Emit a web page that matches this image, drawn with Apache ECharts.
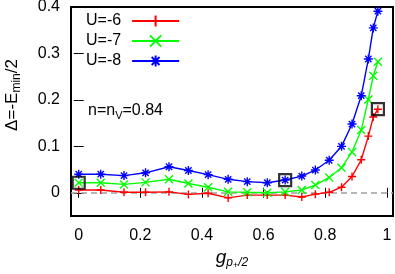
<!DOCTYPE html>
<html>
<head>
<meta charset="utf-8">
<script src="https://cdn.jsdelivr.net/npm/echarts@6/dist/echarts.min.js"></script>
<style>
html,body{margin:0;padding:0;background:#fff;}
#chart{width:395px;height:274px;}
</style>
</head>
<body>
<div id="chart"></div>
<script>
// ---- data ----
const gValues = [0, 0.0715, 0.147, 0.217, 0.293, 0.356, 0.42, 0.485, 0.547, 0.612, 0.670, 0.724, 0.768, 0.813, 0.853, 0.887, 0.917, 0.94, 0.956, 0.971];
const seriesNames = ['U=-6', 'U=-7', 'U=-8'];
const gapU6 = [0.006, 0.006, 0.001, 0.001, 0.002, -0.0035, -0.001, -0.011, -0.005, -0.005, -0.005, -0.009, -0.003, 0.001, 0.012, 0.035, 0.071, 0.122, 0.163, 0.180];
const gapU7 = [0.0216, 0.0216, 0.018, 0.0224, 0.029, 0.020, 0.012, 0.002, 0.001, 0.0, 0.002, 0.006, 0.0166, 0.033, 0.054, 0.088, 0.135, 0.201, 0.252, 0.282];
const gapU8 = [0.040, 0.040, 0.037, 0.043, 0.056, 0.048, 0.039, 0.029, 0.024, 0.0216, 0.0274, 0.036, 0.049, 0.070, 0.100, 0.148, 0.209, 0.288, 0.355, 0.391];
// boxed points: [series index, point index]
const boxedPoints = [[1, 0], [2, 10], [0, 19]];
const xTicks = [0, 0.2, 0.4, 0.6, 0.8, 1];
const yTicks = [0, 0.1, 0.2, 0.3, 0.4];

const FONT = "'Liberation Sans', Arial, Helvetica, sans-serif";
const colors = ['#ff0000', '#00ff00', '#0000ff'];
const symbols = [
  'path://M0,5L10,5M5,0L5,10',
  'path://M0,0L10,10M0,10L10,0',
  'path://M0,5L10,5M5,0L5,10M1.5,1.5L8.5,8.5M1.5,8.5L8.5,1.5'
];
const sizes = [8, 8, 9];
const allValues = [gapU6, gapU7, gapU8];

function near(v, list) { return list.some(t => Math.abs(t - v) < 1e-9); }
function fmt(v) { return v === 0 ? '0' : String(+v.toFixed(1)); }

const lineSeries = allValues.map((vals, i) => ({
  name: seriesNames[i],
  type: 'line',
  data: gValues.map((g, k) => [g, vals[k]]),
  symbol: symbols[i],
  symbolSize: sizes[i],
  showAllSymbol: true,
  lineStyle: { color: colors[i], width: 1.4 },
  itemStyle: { color: colors[i], borderColor: colors[i], borderWidth: 1.4 },
  z: 3 + i,
  animation: false
}));

lineSeries[0].markLine = {
  silent: true,
  symbol: 'none',
  label: { show: false },
  lineStyle: { color: '#a0a0a0', width: 1.5, type: [6, 4] },
  data: [{ yAxis: 0 }],
  z: 1,
  animation: false
};

const boxSeries = {
  type: 'scatter',
  data: boxedPoints.map(([s, k]) => [gValues[k], allValues[s][k]]),
  symbol: 'path://M0,0L10,0L10,10L0,10Z',
  symbolSize: 12,
  itemStyle: { color: 'rgba(0,0,0,0)', borderColor: '#000', borderWidth: 2.2 },
  z: 10,
  silent: true,
  animation: false
};

const commonX = {
  type: 'value', min: -0.025, max: 1.02, minInterval: 0.2, maxInterval: 0.2,
  splitLine: { show: false },
  axisLine: { show: false },
  axisTick: { inside: true, length: 5, lineStyle: { color: '#000', width: 1 },
    customValues: xTicks }
};
const commonY = {
  type: 'value', min: -0.05, max: 0.4, minInterval: 0.1, maxInterval: 0.1,
  splitLine: { show: false },
  axisLine: { show: false },
  axisTick: { inside: true, length: 5, lineStyle: { color: '#000', width: 1 },
    customValues: yTicks }
};

const subStyle = (size, pad, italic) => ({ fontSize: size, fontFamily: FONT, fill: '#000', padding: [pad, 0, 0, 0], fontStyle: italic ? 'italic' : 'normal' });
const mainStyle = (size, italic) => ({ fontSize: size, fontFamily: FONT, fill: '#000', fontStyle: italic ? 'italic' : 'normal' });

const option = {
  animation: false,
  backgroundColor: '#fff',
  textStyle: { fontFamily: FONT },
  grid: { left: 71, right: 2, top: 7, bottom: 58, show: true, borderColor: '#000', borderWidth: 2,
    containLabel: false, outerBoundsMode: 'none' },
  legend: {
    data: seriesNames,
    orient: 'vertical',
    left: 86, top: 13,
    padding: 0,
    align: 'right',
    itemWidth: 47, itemHeight: 14, itemGap: 4,
    textStyle: { fontFamily: FONT, fontSize: 16, color: '#000', lineHeight: 14, padding: [0, 6, 0, 0] },
    selectedMode: false
  },
  xAxis: [
    Object.assign({}, commonX, {
      position: 'bottom',
      axisLabel: { color: '#000', fontSize: 16, fontFamily: FONT, margin: 12,
        customValues: xTicks, formatter: v => near(v, xTicks) ? fmt(v) : '' }
    }),
    Object.assign({}, commonX, { position: 'top', axisLabel: { show: false } })
  ],
  yAxis: [
    Object.assign({}, commonY, {
      position: 'left',
      axisLabel: { color: '#000', fontSize: 16, fontFamily: FONT, margin: 11,
        customValues: yTicks, formatter: v => near(v, yTicks) ? fmt(v) : '' }
    }),
    Object.assign({}, commonY, { position: 'right', axisLabel: { show: false } })
  ],
  graphic: [
    {
      type: 'text', x: 88, y: 111,
      style: {
        text: '{a|n=n}{s|V}{a|=0.84}',
        align: 'left', verticalAlign: 'middle',
        rich: { a: mainStyle(16, false), s: subStyle(11, 9, false) }
      }
    },
    {
      type: 'text', x: 12, y: 95, rotation: Math.PI / 2,
      style: {
        text: '{a|Δ=-E}{s|min}{a|/2}',
        align: 'center', verticalAlign: 'middle',
        rich: { a: mainStyle(17, false), s: subStyle(12, 9, false) }
      }
    },
    {
      type: 'text', x: 232, y: 258,
      style: {
        text: '{g|g}{p|p}{q|+}{p|/2}',
        align: 'center', verticalAlign: 'middle',
        rich: { g: mainStyle(19, true), p: subStyle(12, 9, true), q: subStyle(9, 15, false) }
      }
    }
  ],
  series: lineSeries.concat([boxSeries])
};

const chart = echarts.init(document.getElementById('chart'), null, { renderer: 'canvas' });
chart.setOption(option);
</script>
</body>
</html>
